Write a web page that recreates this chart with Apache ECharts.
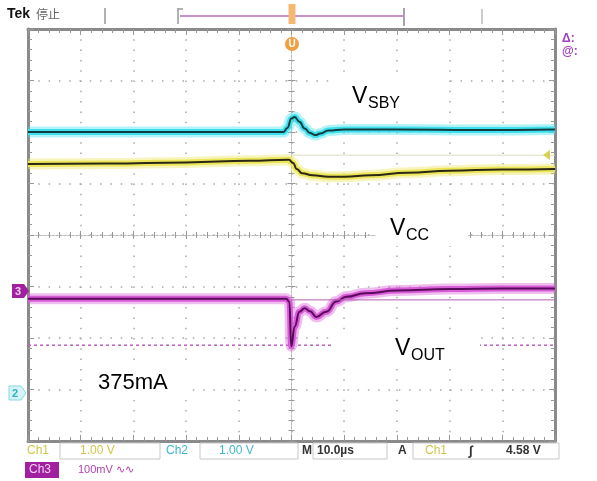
<!DOCTYPE html>
<html><head><meta charset="utf-8">
<script src="https://cdn.jsdelivr.net/npm/echarts@6/dist/echarts.min.js"></script>
<style>html,body{margin:0;padding:0;background:#fff;}#c{width:597px;height:481px;}</style>
</head><body><div id="c"></div>
<script>
// time in µs (10 µs/div), values in divisions from screen centre
const timeCyan = [-50, -25, -1.5, -0.8, 0, 0.6, 1.5, 2.5, 3.5, 4.5, 5.5, 7, 10, 20, 35, 50];
const vCyan    = [2.0, 2.0, 2.0, 2.08, 2.26, 2.29, 2.2, 2.07, 1.98, 1.94, 1.97, 2.03, 2.05, 2.05, 2.04, 2.05];
const timeYellow = [-50, -35, -20, -8, -0.5, 0.3, 1, 2, 4, 7, 10, 15, 22, 30, 40, 50];
const vYellow    = [1.38, 1.39, 1.41, 1.44, 1.46, 1.40, 1.28, 1.20, 1.16, 1.13, 1.13, 1.16, 1.21, 1.25, 1.27, 1.28];
const timePurple = [-50, -20, -1, -0.4, -0.05, 0.6, 1.5, 2.5, 3.5, 4.7, 6.6, 8.5, 10.4, 14, 20, 30, 40, 50];
const vPurple    = [-1.24, -1.24, -1.24, -1.3, -2.16, -1.78, -1.49, -1.42, -1.48, -1.59, -1.49, -1.29, -1.20, -1.13, -1.08, -1.05, -1.04, -1.04];
const refYellowT = [0, 50]; const refYellowV = [1.55, 1.55];
const refPurpleT = [0, 50]; const refPurpleV = [-1.26, -1.26];
const cursorT = [-50, 50]; const cursorV = [-2.14, -2.14];

const xTicks = {min: -50, max: 50, interval: 10};
const yTicks = {min: -4, max: 4, interval: 1};

function pairs(t, v){ return t.map((x,i)=>[x, v[i]]); }

const borderLine = {color:'#8a8a8a', width:3};
function ax(pos, onZero, inside, split, ticks){
  return Object.assign({type:'value', position:pos, axisLabel:{show:false},
    axisLine: onZero ? {onZero:true, onZeroAxisIndex:0, lineStyle:{color:'#b8b8b8', width:1, type:[2,2]}} : {onZero:false, lineStyle:borderLine},
    axisTick:{show:true, inside:inside, length: onZero?4:6, lineStyle:{color:'#999'}},
    minorTick:{show:true, splitNumber:5, length: onZero?3:4, lineStyle:{color:'#999'}},
    splitLine: split ? {show:true, lineStyle:{color:'#a8a8a8', width:1.5, type:[1.5, 8.8]}} : {show:false}
  }, ticks);
}

const SM = 0.5;
function trace(t, v, glow, core){
  const base = {type:'line', data:pairs(t,v), showSymbol:false, smooth:SM, smoothMonotone:'x', silent:true};
  return [
    Object.assign({}, base, {lineStyle:{color:glow, width:11, opacity:0.4}, z:3}),
    Object.assign({}, base, {lineStyle:{color:glow, width:6}, z:4}),
    Object.assign({}, base, {lineStyle:{color:core, width:2}, z:5})
  ];
}

const series = [
  {type:'line', data:pairs(cursorT,cursorV), showSymbol:false, silent:true, lineStyle:{color:'#c060c0', width:1.5, type:[3,3]}, z:2},
  {type:'line', data:pairs(refYellowT,refYellowV), showSymbol:false, silent:true, lineStyle:{color:'#dcdcc4', width:1}, z:2},
  {type:'line', data:pairs(refPurpleT,refPurpleV), showSymbol:false, silent:true, lineStyle:{color:'#b060b0', width:1}, z:6}
].concat(trace(timeCyan, vCyan, '#3ee0ee', '#123c40'))
 .concat(trace(timeYellow, vYellow, '#ece55a', '#2a2812'))
 .concat(trace(timePurple, vPurple, '#d85cd8', '#5a0a5a'));

const F = 'Liberation Sans, Arial, sans-serif';
function txt(x,y,s,size,fill,extra){ extra = extra||{}; return {type:'text', x:x, y:y, z:30, style:{text:s, font:(extra.bold?'bold ':'')+size+'px '+(extra.family||F), fill:fill, textVerticalAlign:'middle'}}; }
function rect(x,y,w,h,fill,stroke,z){ return {type:'rect', shape:{x:x,y:y,width:w,height:h}, z:z||15, style:{fill:fill, stroke:stroke||null, lineWidth:1}}; }
function vline(x,y1,y2,color,w){ return {type:'line', z:20, shape:{x1:x,y1:y1,x2:x,y2:y2}, style:{stroke:color, lineWidth:w||1.5}}; }

const graphic = [
  // label backgrounds
  rect(332,80,110,34,'#fff'), rect(376,212,92,34,'#fff'), rect(332,332,148,34,'#fff'), rect(84,366,104,34,'#fff'),
  txt(352,97,'V',23,'#000'), txt(368,104,'SBY',16,'#000'),
  txt(390,229,'V',23,'#000'), txt(406,236,'CC',16,'#000'),
  txt(395,349,'V',23,'#000'), txt(411,356,'OUT',16,'#000'),
  txt(98,383,'375mA',22,'#000'),
  // header
  txt(7,14,'Tek',14,'#111',{bold:true}), txt(36,14,'停止',12,'#666',{family:'Noto Sans CJK SC'}),
  vline(105,8,24,'#999',1.5), vline(178,8,24,'#999',1.5), vline(404,8,26,'#888',1.5), vline(482,9,24,'#bbb',1.5),
  {type:'line', z:19, shape:{x1:180,y1:16,x2:403,y2:16}, style:{stroke:'#c890c8', lineWidth:2}},
  {type:'line', z:19, shape:{x1:178,y1:9,x2:183,y2:9}, style:{stroke:'#999', lineWidth:1.5}},
  rect(288.5,4,7,20,'#f4b870',null,21),
  {type:'circle', z:21, shape:{cx:292,cy:44,r:7}, style:{fill:'#f0a040'}},
  txt(288.5,44.5,'U',10,'#fff',{bold:true}),
  // right side
  txt(562,39,'Δ:',12,'#a040c0',{bold:true}), txt(562,52,'@:',12,'#a040c0',{bold:true}),
  {type:'polygon', z:21, shape:{points:[[543,155],[550,150],[550,160]]}, style:{fill:'#d8d050'}},
  // left channel markers
  {type:'polygon', z:21, shape:{points:[[12,284],[24,284],[29,291],[24,298],[12,298]]}, style:{fill:'#a020a0'}},
  txt(15,291.5,'3',11,'#f4d0f4',{bold:true}),
  {type:'polygon', z:21, shape:{points:[[9,386],[21,386],[26,393],[21,400],[9,400]]}, style:{fill:'#d6f4f8', stroke:'#80d8e4', lineWidth:1}},
  txt(12,393.5,'2',11,'#30b0c0',{bold:true}),
  // status bar
  txt(27,451,'Ch1',12,'#cfc64a'),
  rect(60,443,100,16,'#fff','#c8c8c8'), txt(80,451,'1.00 V',12,'#cfc64a'),
  txt(166,451,'Ch2',12,'#40b8c8'),
  rect(200,443,98,16,'#fff','#c8c8c8'), txt(219,451,'1.00 V',12,'#40b8c8'),
  txt(302,451,'M',12,'#333',{bold:true}),
  rect(313,443,74,16,'#fff','#c8c8c8'), txt(317,451,'10.0µs',12,'#333',{bold:true}),
  txt(398,451,'A',12,'#333',{bold:true}),
  rect(413,443,146,16,'#fff','#c8c8c8'), txt(425,451,'Ch1',12,'#cfc64a'), txt(469,451,'∫',13,'#333',{bold:true}), txt(506,451,'4.58 V',12,'#333',{bold:true}),
  rect(25,462,34,16,'#a020a0',null), txt(29,470,'Ch3',12,'#f4d0f4'),
  txt(78,470,'100mV ∿∿',11,'#b040b0')
];

const chart = echarts.init(document.getElementById('c'), null, {renderer:'canvas'});
chart.setOption({
  animation:false,
  backgroundColor:'#fff',
  grid:{left:28, top:29, width:527, height:412, containLabel:false},
  xAxis:[ax('bottom',false,true,true,xTicks), ax('top',false,true,false,xTicks), ax('bottom',true,true,false,xTicks), ax('bottom',true,false,false,xTicks)],
  yAxis:[ax('left',false,true,true,yTicks), ax('right',false,true,false,yTicks), ax('left',true,true,false,yTicks), ax('left',true,false,false,yTicks)],
  series: series,
  graphic: graphic
});
</script></body></html>
